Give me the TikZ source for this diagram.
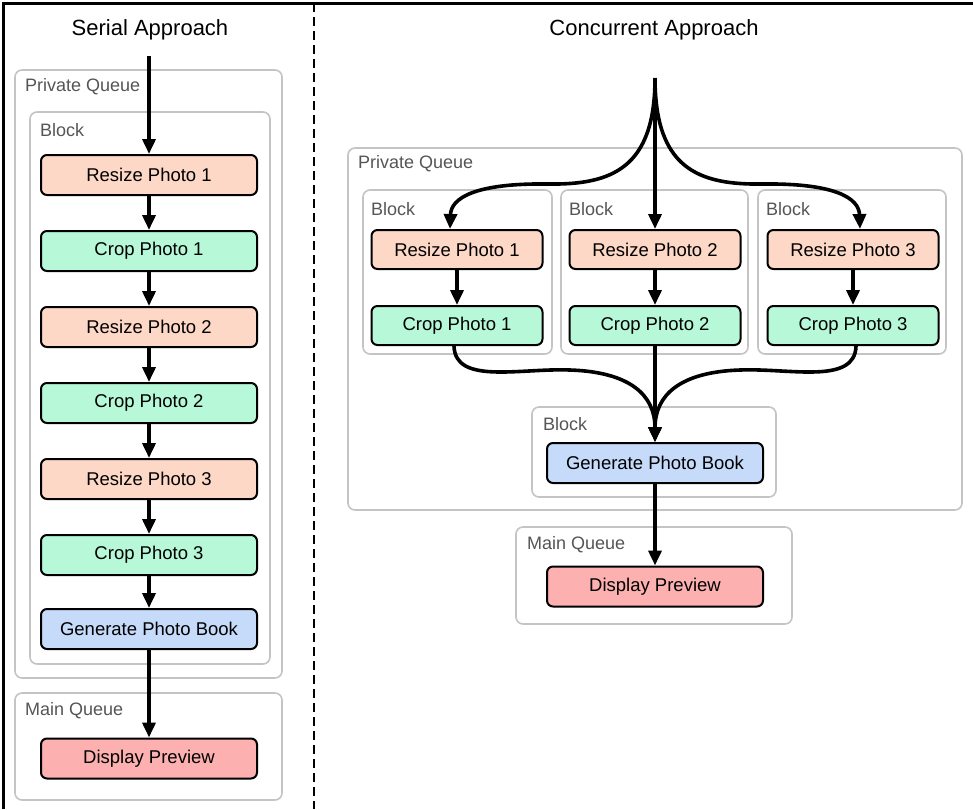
\documentclass[tikz,border=0pt]{standalone}
\usepackage{fontspec}
\setmainfont{Liberation Sans}
\usetikzlibrary{arrows.meta,positioning}

\definecolor{resizecol}{RGB}{253,216,198}
\definecolor{cropcol}{RGB}{182,248,216}
\definecolor{gencol}{RGB}{198,218,250}
\definecolor{showcol}{RGB}{252,176,176}
\definecolor{groupgray}{RGB}{196,196,196}
\definecolor{labelgray}{RGB}{85,85,85}

\begin{document}
\begin{tikzpicture}[x=1pt,y=-1pt,>={Triangle[length=15pt,width=13pt]},node distance=34pt]
  \tikzstyle{taskbox}=[draw,line width=2pt,rounded corners=6pt,minimum width=216pt,minimum height=40pt,inner sep=0pt,font=\fontsize{18.5}{21}\selectfont]
  \tikzstyle{smallbox}=[taskbox,minimum width=171pt,minimum height=39pt]
  \tikzstyle{group}=[draw=groupgray,line width=1.6pt,rounded corners=7pt]
  \tikzstyle{grouplabel}=[anchor=west,inner sep=0pt,text=labelgray,font=\fontsize{18}{21}\selectfont]
  \tikzstyle{flow}=[line width=3.6pt,->]
  \useasboundingbox (0,0) rectangle (973,809);

  % frame and divider
  \draw[line width=3pt] (3,809) -- (3,3) -- (973,3);
  \draw[line width=2pt,dash pattern=on 9pt off 5pt] (314,3) -- (314,809);

  \node[font=\fontsize{22}{26}\selectfont] (stitle) at (150,30) {Serial Approach};
  \node[font=\fontsize{22}{26}\selectfont] (ctitle) at (654,30) {Concurrent Approach};

  % serial side
  \draw[group] (15,70) rectangle (282,678);
  \node[grouplabel] (spq) at (25,87) {Private Queue};
  \draw[group] (30,112) rectangle (270,664);
  \node[grouplabel] (sblk) at (40,130) {Block};
  \draw[group] (15,693) rectangle (282,800);
  \node[grouplabel] (smq) at (25,711) {Main Queue};

  \node[taskbox,fill=resizecol] (s1) at (149,175) {Resize Photo 1};
  \node[taskbox,fill=cropcol,below=of s1] (s2) {Crop Photo 1};
  \node[taskbox,fill=resizecol,below=of s2] (s3) {Resize Photo 2};
  \node[taskbox,fill=cropcol,below=of s3] (s4) {Crop Photo 2};
  \node[taskbox,fill=resizecol,below=of s4] (s5) {Resize Photo 3};
  \node[taskbox,fill=cropcol,below=of s5] (s6) {Crop Photo 3};
  \node[taskbox,fill=gencol,below=32pt of s6] (s7) {Generate Photo Book};
  \node[taskbox,fill=showcol] (s8) at (149,758.5) {Display Preview};

  \coordinate (sstart) at (149,56);
  \draw[flow] (sstart) -- (s1);
  \foreach \a/\b in {s1/s2,s2/s3,s3/s4,s4/s5,s5/s6,s6/s7,s7/s8}
    \draw[flow] (\a) -- (\b);

  % concurrent side
  \draw[group] (348,148) rectangle (962,510);
  \node[grouplabel] (cpq) at (358,164) {Private Queue};
  \draw[group] (363,190) rectangle (552,354);
  \node[grouplabel] (cb1) at (371,209) {Block};
  \draw[group] (561,190) rectangle (748,354);
  \node[grouplabel] (cb2) at (569,209) {Block};
  \draw[group] (758,190) rectangle (946,354);
  \node[grouplabel] (cb3) at (766,209) {Block};
  \draw[group] (532,407) rectangle (776,497);
  \node[grouplabel] (cb4) at (543,424) {Block};
  \draw[group] (516,527) rectangle (792,624);
  \node[grouplabel] (cmq) at (527,545) {Main Queue};

  \node[smallbox,fill=resizecol] (r2) at (655,249.5) {Resize Photo 2};
  \node[smallbox,fill=resizecol,left=25pt of r2] (r1) {Resize Photo 1};
  \node[smallbox,fill=resizecol,right=25pt of r2] (r3) {Resize Photo 3};
  \node[smallbox,fill=cropcol,below=35pt of r1] (c1) {Crop Photo 1};
  \node[smallbox,fill=cropcol,below=35pt of r2] (c2) {Crop Photo 2};
  \node[smallbox,fill=cropcol,below=35pt of r3] (c3) {Crop Photo 3};
  \node[taskbox,fill=gencol] (gen) at (655,463) {Generate Photo Book};
  \node[taskbox,fill=showcol] (disp) at (655,586.5) {Display Preview};

  \coordinate (cstart) at (655,78);
  \draw[flow] (cstart) -- (r2);
  \draw[flow] (cstart) .. controls (655,168) and (612,185) .. (548,184)
    .. controls (475,183) and (451,198) .. ([xshift=-7pt]r1.north);
  \draw[flow] (cstart) .. controls (655,168) and (698,185) .. (762,184)
    .. controls (835,183) and (859,198) .. ([xshift=7pt]r3.north);
  \foreach \a/\b in {r1/c1,r2/c2,r3/c3}
    \draw[flow] (\a) -- (\b);

  \draw[flow] ([xshift=-3pt]c1.south) .. controls (455,385) and (520,368) .. (570,370)
    .. controls (630,372) and (655,395) .. (gen.north);
  \draw[flow] ([xshift=3pt]c3.south) .. controls (855,385) and (790,368) .. (740,370)
    .. controls (680,372) and (655,395) .. (gen.north);
  \draw[flow] (c2) -- (gen);
  \draw[flow] (gen) -- (disp);
\end{tikzpicture}
\end{document}
